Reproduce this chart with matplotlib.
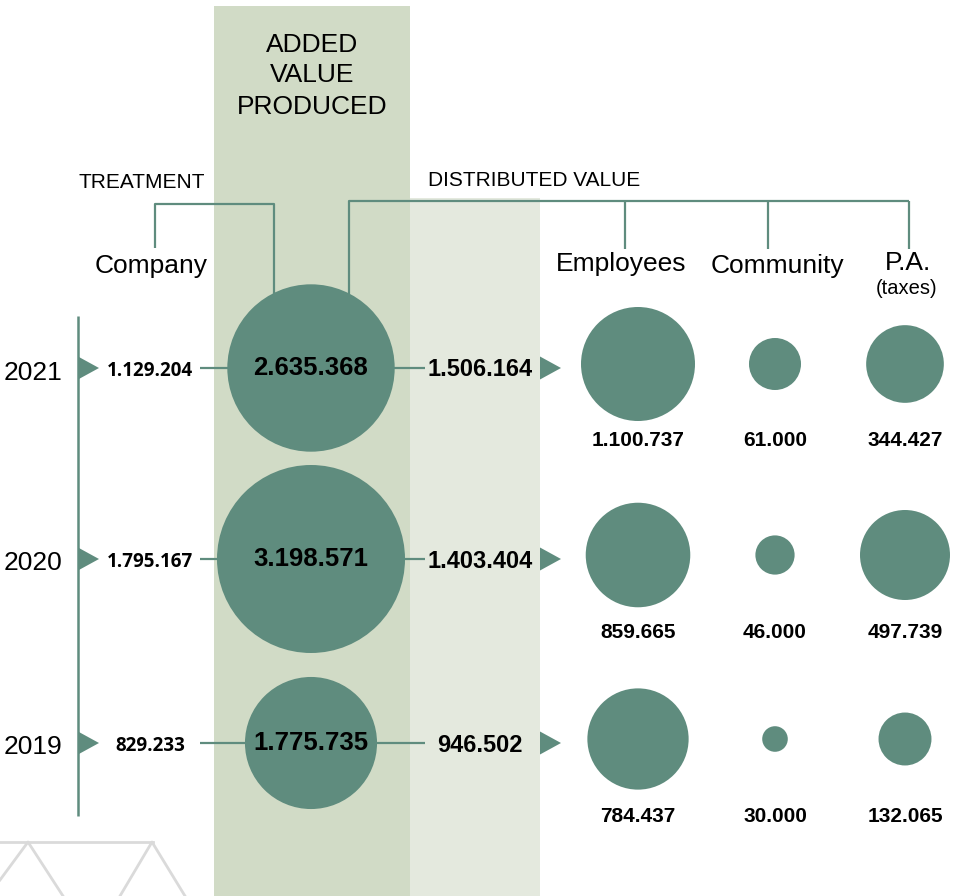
import matplotlib.pyplot as plt
from matplotlib.patches import Circle, Polygon, Rectangle

# ---------- data ----------
years = ["2021", "2020", "2019"]
company = [1129204, 1795167, 829233]          # treatment - company
added_value = [2635368, 3198571, 1775735]     # added value produced
distributed = [1506164, 1403404, 946502]      # distributed value
employees = [1100737, 859665, 784437]
community = [61000, 46000, 30000]
pa_taxes = [344427, 497739, 132065]

# ---------- style ----------
GREEN = "#5f8c7e"
BAND = "#d1dbc6"
BAND_LIGHT = "#e4e9de"
GREY = "#dadada"
SANS = "Liberation Sans"
NUM = "Open Sans"
PX = 100 / 72  # pixels per point at dpi 100


def fmt(v):
    return f"{v:,}".replace(",", ".")


def radius(v, values, rmax, power):
    return rmax * (v / max(values)) ** power


fig = plt.figure(figsize=(9.57, 8.96), dpi=100)
ax = fig.add_axes([0, 0, 1, 1])
ax.set_xlim(0, 957)
ax.set_ylim(896, 0)
ax.axis("off")


def label(x, y, s, size, weight="normal", family=SANS):
    # y = visual centre of the capitals
    ax.text(x, y + 0.36 * size * PX, s, fontsize=size, fontweight=weight,
            family=family, ha="center", va="baseline", color="black", zorder=5)


def line(xs, ys, lw=1.6):
    ax.plot(xs, ys, color=GREEN, lw=lw, zorder=2, solid_capstyle="butt")


def arrow_head(x, y, w=21, h=23):
    ax.add_patch(Polygon([(x, y - h / 2), (x, y + h / 2), (x + w, y)],
                         closed=True, color=GREEN, lw=0, zorder=3))


# background bands
ax.add_patch(Rectangle((214, 6), 196, 890, color=BAND, lw=0, zorder=0))
ax.add_patch(Rectangle((410, 198), 130, 698, color=BAND_LIGHT, lw=0, zorder=0))

# header texts
for txt, yy in zip(["ADDED", "VALUE", "PRODUCED"], [42, 73, 104]):
    label(312, yy, txt, 19)
label(142, 181, "TREATMENT", 15)
label(534, 178, "DISTRIBUTED VALUE", 15)
label(151, 264, "Company", 19)
label(621, 261, "Employees", 19)
label(777, 263, "Community", 19)
label(908, 260, "P.A.", 19)
label(907, 287, "(taxes)", 14.5)

# brackets
line([155, 155, 274, 274], [248, 204, 204, 300])
line([349, 349, 909], [300, 201, 201])
for bx in [625, 768, 909]:
    line([bx, bx], [201, 249])

# timeline
line([78, 78], [316, 816], lw=1.8)

row_y = [368, 559, 743]
ADDED_X = 311
cols = [(638, employees, 57, 0.35), (775, community, 26, 1.0), (905, pa_taxes, 45, 0.4)]

for i, y in enumerate(row_y):
    arrow_head(78, y)
    label(33, y + 2, years[i], 19)
    label(150, y + 1, fmt(company[i]), 13.5, "bold", NUM)
    line([200, ADDED_X], [y, y])
    r = radius(added_value[i], added_value, 94, 0.6)
    ax.add_patch(Circle((ADDED_X, y), r, color=GREEN, lw=0, zorder=3))
    label(ADDED_X, y - 2, fmt(added_value[i]), 18.5, "bold")
    line([ADDED_X, 425], [y, y])
    label(480, y, fmt(distributed[i]), 17, "bold")
    arrow_head(540, y)
    for cx, vals, rmax, pw in cols:
        rr = radius(vals[i], vals, rmax, pw)
        ax.add_patch(Circle((cx, y - 4), rr, color=GREEN, lw=0, zorder=3))
        label(cx, y + 71, fmt(vals[i]), 15, "bold")

# faint decorative truss bottom-left
ax.plot([0, 153], [842, 842], color=GREY, lw=2, zorder=1)
ax.plot([0, 28, 63], [880, 842, 896], color=GREY, lw=2, zorder=1)
ax.plot([120, 152, 185], [896, 842, 896], color=GREY, lw=2, zorder=1)

fig.savefig("out.png", dpi=100, facecolor="white")
